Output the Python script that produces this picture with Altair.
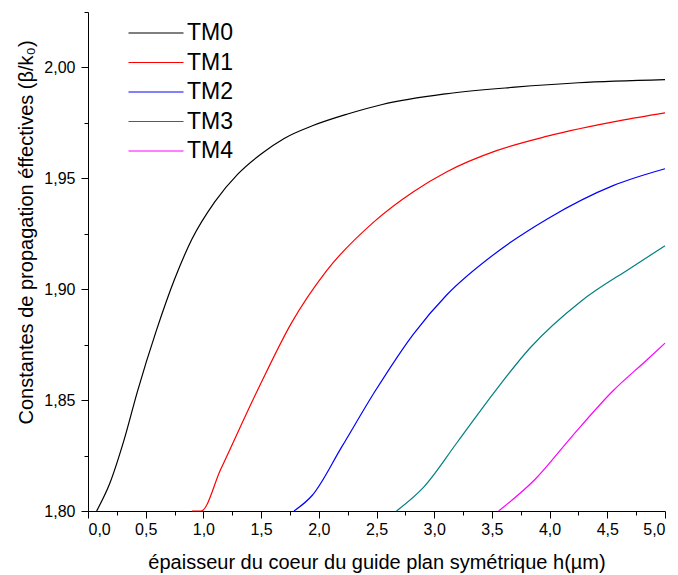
import altair as alt
import pandas as pd

# Effective propagation constants of the TM modes versus core thickness
tm0_h = [0.075, 0.19, 0.31, 0.43, 0.59, 0.75, 0.90, 1.10, 1.30, 1.50, 1.70, 1.95, 2.25, 2.55, 3.10, 3.70, 4.25, 5.00]
tm0_b = [1.800, 1.8126, 1.8316, 1.8542, 1.8810, 1.9045, 1.9225, 1.9395, 1.9520, 1.9610, 1.9680, 1.9738, 1.9790, 1.9833, 1.9881, 1.9911, 1.9931, 1.9945]

tm1_h = [0.90, 0.98, 1.15, 1.49, 1.76, 2.07, 2.48, 2.82, 3.11, 3.54, 3.98, 4.61, 5.00]
tm1_b = [1.800, 1.800, 1.8188, 1.8567, 1.8845, 1.9085, 1.9305, 1.9440, 1.9530, 1.9625, 1.9690, 1.9760, 1.9795]

tm2_h = [1.785, 1.944, 2.20, 2.49, 2.82, 3.11, 3.54, 3.98, 4.55, 5.00]
tm2_b = [1.800, 1.8071, 1.8290, 1.8542, 1.8798, 1.8975, 1.9166, 1.9317, 1.9467, 1.9543]

tm3_h = [2.673, 2.909, 3.20, 3.53, 3.83, 4.27, 4.70, 5.00]
tm3_b = [1.800, 1.8108, 1.8310, 1.8542, 1.8735, 1.8945, 1.9095, 1.9196]

tm4_h = [3.558, 3.875, 4.20, 4.55, 4.84, 5.00]
tm4_b = [1.800, 1.8143, 1.8340, 1.8542, 1.8680, 1.8757]

modes = ["TM0", "TM1", "TM2", "TM3", "TM4"]
colors = ["#000000", "#FF0000", "#0000FF", "#008080", "#FF00FF"]

series = [(tm0_h, tm0_b), (tm1_h, tm1_b), (tm2_h, tm2_b), (tm3_h, tm3_b), (tm4_h, tm4_b)]
rows = []
for name, (hs, bs) in zip(modes, series):
    for i, (h, b) in enumerate(zip(hs, bs)):
        rows.append({"mode": name, "h": h, "b": b, "order": i})
df = pd.DataFrame(rows)

x_ticks = [round(0.25 * i, 3) for i in range(21)]
y_ticks = [round(1.8 + 0.025 * i, 3) for i in range(10)]

x_major = "abs(datum.value * 2 - round(datum.value * 2)) < 0.01"
y_major = "abs(datum.value * 20 - round(datum.value * 20)) < 0.01"

FONT = "Liberation Sans"

chart = alt.Chart(df).mark_line(strokeWidth=1.2, interpolate="monotone").encode(
    x=alt.X(
        "h:Q",
        scale=alt.Scale(domain=[0, 5], nice=False, zero=False),
        axis=alt.Axis(
            values=x_ticks,
            labelExpr=f"{x_major} ? replace(format(datum.value, '.1f'), '.', ',') : ''",
            tickSize={"condition": {"test": x_major, "value": 7}, "value": 4},
            labelPadding=3,
            labelFontSize=16,
            title="épaisseur du coeur du guide plan symétrique h(µm)",
            titleFontSize=20,
            titleFontWeight="normal",
            titleBaseline="alphabetic",
            titleY=57,
        ),
    ),
    y=alt.Y(
        "b:Q",
        scale=alt.Scale(domain=[1.8, 2.025], nice=False, zero=False),
        axis=alt.Axis(
            values=y_ticks,
            labelExpr=f"{y_major} ? replace(format(datum.value, '.2f'), '.', ',') : ''",
            tickSize={"condition": {"test": y_major, "value": 7}, "value": 4},
            labelPadding=6,
            labelFontSize=16,
            title="Constantes de propagation éffectives (β/k₀)",
            titleFontSize=20,
            titleFontWeight="normal",
            titleAngle=-90,
            titleAlign="center",
            titleBaseline="alphabetic",
            titleX=-56,
            titleY=220,
        ),
    ),
    color=alt.Color(
        "mode:N",
        scale=alt.Scale(domain=modes, range=colors),
        legend=alt.Legend(
            title=None,
            orient="none",
            legendX=56,
            legendY=9,
            symbolType="M-2.5,0L2.5,0",
            symbolSize=484,
            symbolStrokeWidth=1.2,
            labelFontSize=23,
            labelOffset=19,
            rowPadding=5.5,
            padding=0,
        ),
    ),
    order="order:Q",
).properties(
    width=577,
    height=499,
    autosize=alt.AutoSizeParams(type="none"),
    padding={"left": 88, "top": 12, "right": 13, "bottom": 64},
    background="white",
).configure_view(
    stroke=None
).configure_axis(
    grid=False,
    domainColor="black",
    tickColor="black",
    labelColor="black",
    titleColor="black",
    labelFont=FONT,
    titleFont=FONT,
    domainWidth=1,
    tickWidth=1,
).configure_legend(
    labelFont=FONT,
    labelColor="black",
)

chart.save("out.html", embed_options={"renderer": "svg", "actions": False})
